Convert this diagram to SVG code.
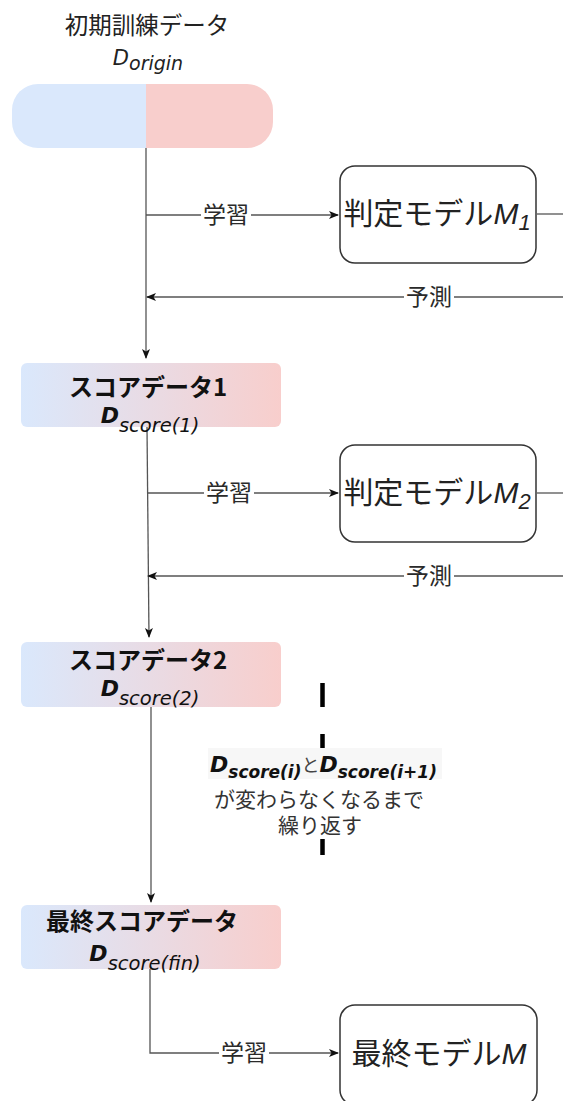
<svg xmlns="http://www.w3.org/2000/svg" width="563" height="1101" viewBox="0 0 563 1101">
<defs>
<linearGradient id="grad" x1="0" y1="0" x2="1" y2="0">
<stop offset="0" stop-color="#dae8fc"/>
<stop offset="1" stop-color="#f8cecc"/>
</linearGradient>
<marker id="arr" viewBox="0 0 10 10" refX="9" refY="5" markerWidth="10" markerHeight="10" markerUnits="userSpaceOnUse" orient="auto">
<path d="M0,1 L10,5 L0,9 L2.5,5 Z" fill="#111"/>
</marker>
<clipPath id="capL"><rect x="0" y="0" width="146" height="200"/></clipPath>
<clipPath id="capR"><rect x="146" y="0" width="200" height="200"/></clipPath>
</defs>
<style>
text{font-family:"DejaVu Sans","Noto Sans CJK JP",sans-serif;}
.jp{font-family:"Noto Sans CJK JP",sans-serif;}
.lbl{font-size:23px;fill:#2a2a2a;}
.ttl{font-size:24px;font-weight:bold;fill:#111;}
.big{font-size:30px;fill:#222;}
.it{font-style:italic;}
.bd{font-weight:bold;}
.conn{fill:none;stroke:#555;stroke-width:1.3;}
.model{fill:#fff;stroke:#333;stroke-width:1.5;}
.lblbg{fill:#fff;}
</style>

<g id="connectors">
<path class="conn" d="M146,148 V358" marker-end="url(#arr)"/>
<path class="conn" d="M146,215 H338" marker-end="url(#arr)"/>
<path class="conn" d="M537,214 H563"/>
<path class="conn" d="M563,297 H147" marker-end="url(#arr)"/>
<path class="conn" d="M147,427 L149,637" marker-end="url(#arr)"/>
<path class="conn" d="M147,493 H338" marker-end="url(#arr)"/>
<path class="conn" d="M537,493 H563"/>
<path class="conn" d="M563,576 H148" marker-end="url(#arr)"/>
<path class="conn" d="M151,706 V902" marker-end="url(#arr)"/>
<path class="conn" d="M150,968 V1053 H338" marker-end="url(#arr)"/>
<rect class="lblbg" x="201" y="203" width="50" height="24"/>
<text class="lbl jp" x="226" y="223" text-anchor="middle">学習</text>
<rect class="lblbg" x="404" y="285" width="50" height="24"/>
<text class="lbl jp" x="429" y="305" text-anchor="middle">予測</text>
<rect class="lblbg" x="204" y="481" width="50" height="24"/>
<text class="lbl jp" x="229" y="501" text-anchor="middle">学習</text>
<rect class="lblbg" x="404" y="564" width="50" height="24"/>
<text class="lbl jp" x="429" y="584" text-anchor="middle">予測</text>
<rect class="lblbg" x="219" y="1041" width="50" height="24"/>
<text class="lbl jp" x="244" y="1061" text-anchor="middle">学習</text>
</g>

<g id="origin">
<text class="jp" x="147" y="34" text-anchor="middle" font-size="23.5" fill="#222">初期訓練データ</text>
<text class="it" x="148" y="65" text-anchor="middle" font-size="21" fill="#222">D<tspan font-size="19" dy="5">origin</tspan></text>
<rect x="12" y="84" width="261" height="64" rx="26" fill="#dae8fc" clip-path="url(#capL)"/>
<rect x="12" y="84" width="261" height="64" rx="26" fill="#f8cecc" clip-path="url(#capR)"/>
</g>

<g id="model1">
<rect class="model" x="340" y="166" width="196" height="97" rx="15"/>
<text class="big" x="437" y="224" text-anchor="middle"><tspan class="jp">判定モデル</tspan><tspan class="it" font-family="Liberation Sans, sans-serif">M</tspan><tspan class="it" font-family="Liberation Sans, sans-serif" font-size="22" dy="6">1</tspan></text>
</g>

<g id="score1">
<rect x="21" y="363" width="260" height="64" rx="6" fill="url(#grad)"/>
<text class="ttl jp" x="148" y="396" text-anchor="middle">スコアデータ1</text>
<text x="150" y="423" text-anchor="middle" font-size="22" fill="#111"><tspan class="it bd">D</tspan><tspan class="it" font-size="19.5" dy="9">score(1)</tspan></text>
</g>

<g id="model2">
<rect class="model" x="340" y="445" width="196" height="97" rx="15"/>
<text class="big" x="437" y="503" text-anchor="middle"><tspan class="jp">判定モデル</tspan><tspan class="it" font-family="Liberation Sans, sans-serif">M</tspan><tspan class="it" font-family="Liberation Sans, sans-serif" font-size="22" dy="6">2</tspan></text>
</g>

<g id="score2">
<rect x="21" y="642" width="260" height="65" rx="6" fill="url(#grad)"/>
<text class="ttl jp" x="148" y="669" text-anchor="middle">スコアデータ2</text>
<text x="150" y="696" text-anchor="middle" font-size="22" fill="#111"><tspan class="it bd">D</tspan><tspan class="it" font-size="19.5" dy="9">score(2)</tspan></text>
</g>

<g id="loop">
<path d="M322.5,683 V855" stroke="#000" stroke-width="4.5" stroke-dasharray="24 27" fill="none"/>
<rect x="205" y="748" width="240" height="91" fill="#fff"/>
<rect x="208" y="748" width="234" height="31" fill="#f7f7f7"/>
<text x="210" y="772" font-size="22" fill="#111"><tspan class="it bd">D</tspan><tspan class="it bd" font-size="17" dy="6">score(i)</tspan><tspan class="jp" font-size="18" dy="-6" fill="#444">と</tspan><tspan class="it bd">D</tspan><tspan class="it bd" font-size="17" dy="6">score(i+1)</tspan></text>
<text class="jp" x="319" y="807" text-anchor="middle" font-size="21" fill="#333">が変わらなくなるまで</text>
<text class="jp" x="320" y="833" text-anchor="middle" font-size="21" fill="#333">繰り返す</text>
</g>

<g id="scorefin">
<rect x="21" y="905" width="260" height="64" rx="6" fill="url(#grad)"/>
<text class="ttl jp" x="142" y="930" text-anchor="middle">最終スコアデータ</text>
<text x="145" y="961" text-anchor="middle" font-size="22" fill="#111"><tspan class="it bd">D</tspan><tspan class="it" font-size="19.5" dy="9">score(fin)</tspan></text>
</g>

<g id="finalmodel">
<rect class="model" x="340" y="1005" width="197" height="100" rx="15"/>
<text class="big" x="439" y="1064" text-anchor="middle"><tspan class="jp">最終モデル</tspan><tspan class="it" font-family="Liberation Sans, sans-serif">M</tspan></text>
</g>
</svg>
